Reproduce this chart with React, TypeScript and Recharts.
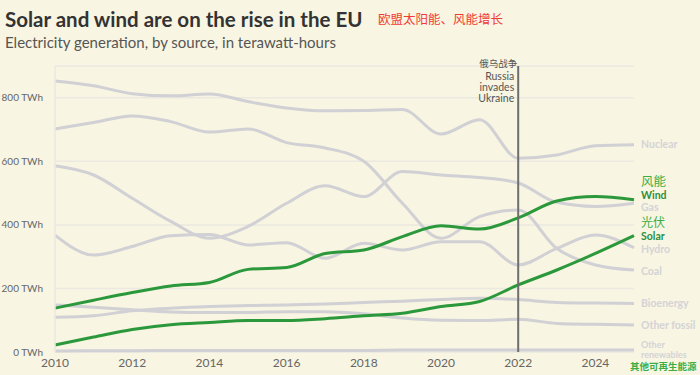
import React from 'react';
import { LineChart, Line, XAxis, YAxis, CartesianGrid, ReferenceLine } from 'recharts';

const FONT = 'Lato, "Noto Sans", "Noto Sans CJK SC", sans-serif';
const CJK = '"Noto Sans CJK SC", sans-serif';

const years = [2010, 2011, 2012, 2013, 2014, 2015, 2016, 2017, 2018, 2019, 2020, 2021, 2022, 2023, 2024, 2025];
const nuclear = [853, 838, 813, 806, 812, 788, 768, 759, 760, 763, 686, 731, 610, 620, 649, 652];
const coal = [702, 722, 743, 725, 692, 702, 659, 642, 600, 468, 358, 426, 447, 326, 274, 258];
const gas = [586, 557, 484, 411, 358, 395, 468, 523, 489, 568, 557, 549, 532, 471, 458, 468];
const hydro = [368, 305, 332, 366, 370, 337, 344, 295, 342, 321, 347, 347, 274, 326, 368, 328];
const wind = [138, 163, 187, 208, 219, 260, 266, 310, 321, 363, 397, 387, 422, 475, 489, 479];
const solar = [22, 47, 71, 86, 93, 99, 99, 105, 114, 122, 143, 159, 211, 258, 310, 366];
const bioenergy = [109, 114, 130, 138, 143, 146, 148, 151, 156, 160, 165, 169, 165, 156, 154, 153];
const otherFossil = [148, 141, 133, 126, 124, 124, 127, 127, 120, 107, 100, 99, 103, 90, 87, 85];
const otherRenewables = [3, 4, 4, 5, 5, 5, 5, 5, 5, 6, 6, 6, 6, 6, 6, 6];

const xTicks = [2010, 2012, 2014, 2016, 2018, 2020, 2022, 2024];
const yTicks = [0, 200, 400, 600, 800];

const title = 'Solar and wind are on the rise in the EU';
const titleZh = '欧盟太阳能、风能增长';
const subtitle = 'Electricity generation, by source, in terawatt-hours';
const warYear = 2022;
const warZh = '俄乌战争';
const warLines = ['Russia', 'invades', 'Ukraine'];

const data = years.map((year, i) => ({
  year,
  nuclear: nuclear[i],
  coal: coal[i],
  gas: gas[i],
  hydro: hydro[i],
  wind: wind[i],
  solar: solar[i],
  bioenergy: bioenergy[i],
  otherFossil: otherFossil[i],
  otherRenewables: otherRenewables[i],
}));

const GREY = '#d1d0d4';
const GREY_LABEL = '#d4d3d6';
const GREEN = '#2b983b';
const GREEN_LABEL = '#2e8f3b';
const GREEN_ZH = '#3cae45';

type Lbl = { text: string; dy: number; dx?: number; color: string; size: number; weight: number; font?: string };

const greyLbl = (text: string, dy = 0): Lbl => ({ text, dy, color: GREY_LABEL, size: 10.5, weight: 700 });

const series: { key: string; color: string; labels: Lbl[] }[] = [
  { key: 'nuclear', color: GREY, labels: [greyLbl('Nuclear')] },
  { key: 'coal', color: GREY, labels: [greyLbl('Coal', 1)] },
  { key: 'gas', color: GREY, labels: [greyLbl('Gas', 4)] },
  { key: 'hydro', color: GREY, labels: [greyLbl('Hydro', 1.5)] },
  { key: 'bioenergy', color: GREY, labels: [greyLbl('Bioenergy', 0)] },
  { key: 'otherFossil', color: GREY, labels: [greyLbl('Other fossil', 0)] },
  {
    key: 'otherRenewables',
    color: GREY,
    labels: [
      { ...greyLbl('Other', -5.5), size: 9 },
      { ...greyLbl('renewables', 4.5), size: 9 },
      { text: '其他可再生能源', dy: 16.5, dx: -11, color: GREEN_ZH, size: 9.5, weight: 700, font: CJK },
    ],
  },
  {
    key: 'wind',
    color: GREEN,
    labels: [
      { text: '风能', dy: -18.5, color: GREEN_ZH, size: 12.5, weight: 400, font: CJK },
      { text: 'Wind', dy: -4, color: GREEN_LABEL, size: 10.5, weight: 700 },
    ],
  },
  {
    key: 'solar',
    color: GREEN,
    labels: [
      { text: '光伏', dy: -12.5, color: GREEN_ZH, size: 12, weight: 400, font: CJK },
      { text: 'Solar', dy: 1, color: GREEN_LABEL, size: 10.5, weight: 700 },
    ],
  },
];

const endLabel = (labels: Lbl[]) => (props: any) => {
  const { x, y, index } = props;
  if (index !== years.length - 1) return <g />;
  return (
    <g>
      {labels.map((l, i) => (
        <text
          key={i}
          x={x + 7 + (l.dx || 0)}
          y={y + l.dy}
          dy="0.35em"
          fill={l.color}
          fontSize={l.size}
          fontWeight={l.weight}
          fontFamily={l.font || FONT}
        >
          {l.text}
        </text>
      ))}
    </g>
  );
};

const warLabel = (props: any) => {
  const vb = props.viewBox || {};
  const x = vb.x;
  const y = vb.y;
  return (
    <g>
      <text x={x - 1} y={y - 2} dy="0.35em" textAnchor="end" fontSize={9.5} fill="#555" fontFamily={CJK}>
        {warZh}
      </text>
      {warLines.map((t, i) => (
        <text key={t} x={x - 4} y={y + 10 + i * 11} dy="0.35em" textAnchor="end" fontSize={10.5} fill="#555" fontFamily={FONT}>
          {t}
        </text>
      ))}
    </g>
  );
};

const YTick = (props: any) => {
  const { x, y, payload } = props;
  return (
    <text x={x - 3} y={y} dy="0.35em" textAnchor="end" fontSize={10} fill="#666" fontFamily={FONT}>
      {`${payload.value} TWh`}
    </text>
  );
};

const XTick = (props: any) => {
  const { x, y, payload } = props;
  return (
    <text x={x} y={y + 11} dy="0.35em" textAnchor="middle" fontSize={12} fill="#666" fontFamily={FONT}>
      {payload.value}
    </text>
  );
};

export default function App() {
  return (
    <div style={{ position: 'relative', width: 700, height: 375, background: '#f8f5e2', overflow: 'hidden' }}>
      <style>{`body{margin:0;background:#f8f5e2;}`}</style>
      <svg width={700} height={375} style={{ position: 'absolute', left: 0, top: 0 }}>
        <text x={5} y={27} fontSize={20.5} fontWeight={700} fill="#333" fontFamily={FONT}>
          {title}
        </text>
        <text x={378} y={23.5} fontSize={12.5} fill="#ef3b36" fontFamily={CJK}>
          {titleZh}
        </text>
        <text x={5} y={48} fontSize={15} fill="#555" fontFamily={FONT}>
          {subtitle}
        </text>
      </svg>
      <div style={{ position: 'absolute', left: 0, top: 0 }}>
        <LineChart width={700} height={375} data={data} margin={{ top: 66, right: 66, bottom: 0, left: 0 }}>
          <CartesianGrid vertical={false} stroke="#ebe9e1" strokeWidth={1.5} />
          <XAxis
            type="number"
            dataKey="year"
            domain={[2010, 2025]}
            ticks={xTicks}
            interval={0}
            axisLine={false}
            tickLine={false}
            tickSize={0}
            tickMargin={0}
            height={23}
            tick={<XTick />}
          />
          <YAxis
            type="number"
            domain={[0, 900]}
            ticks={yTicks}
            interval={0}
            width={55}
            axisLine={{ stroke: '#ebe9e1', strokeWidth: 1.5 }}
            tickLine={false}
            tickSize={6}
            tickMargin={3}
            tick={<YTick />}
          />
          {series.map((s) => (
            <Line
              key={s.key}
              type="monotone"
              dataKey={s.key}
              stroke={s.color}
              strokeWidth={3}
              dot={false}
              activeDot={false}
              isAnimationActive={false}
              label={endLabel(s.labels)}
            />
          ))}
          <ReferenceLine x={warYear} stroke="#6e6e6e" strokeWidth={2} label={warLabel} />
        </LineChart>
      </div>
    </div>
  );
}
